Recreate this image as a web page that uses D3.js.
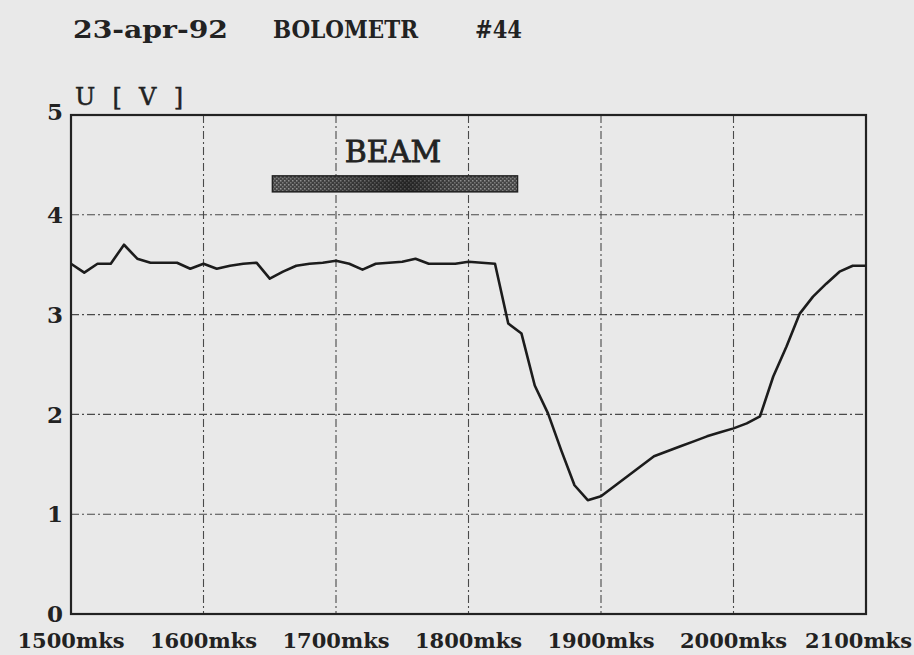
<!DOCTYPE html>
<html>
<head>
<meta charset="utf-8">
<script src="https://cdn.jsdelivr.net/npm/d3@7"></script>
<style>
  body { margin: 0; background: #ebebeb; }
  svg { display: block; }
</style>
</head>
<body>
<div id="chart"></div>
<script>
// time axis (mks) and bolometer signal (V), read every 10 mks
const times = [1500, 1510, 1520, 1530, 1540, 1550, 1560, 1570, 1580, 1590,
  1600, 1610, 1620, 1630, 1640, 1650, 1660, 1670, 1680, 1690,
  1700, 1710, 1720, 1730, 1740, 1750, 1760, 1770, 1780, 1790,
  1800, 1810, 1820, 1830, 1840, 1850, 1860, 1870, 1880, 1890,
  1900, 1910, 1920, 1930, 1940, 1950, 1960, 1970, 1980, 1990,
  2000, 2010, 2020, 2030, 2040, 2050, 2060, 2070, 2080, 2090, 2100];
const volts = [3.51, 3.42, 3.51, 3.51, 3.70, 3.56, 3.52, 3.52, 3.52, 3.46,
  3.51, 3.46, 3.49, 3.51, 3.52, 3.36, 3.43, 3.49, 3.51, 3.52,
  3.54, 3.51, 3.45, 3.51, 3.52, 3.53, 3.56, 3.51, 3.51, 3.51,
  3.53, 3.52, 3.51, 2.91, 2.81, 2.29, 2.01, 1.64, 1.29, 1.14,
  1.18, 1.28, 1.38, 1.48, 1.58, 1.63, 1.68, 1.73, 1.78, 1.82,
  1.86, 1.91, 1.98, 2.38, 2.68, 3.01, 3.18, 3.31, 3.43, 3.49, 3.49];

const xTicks = [1500, 1600, 1700, 1800, 1900, 2000, 2100];
const xTickLabels = ["1500mks", "1600mks", "1700mks", "1800mks", "1900mks", "2000mks", "2100mks"];
const yTicks = [0, 1, 2, 3, 4, 5];

// beam on interval (mks)
const beam = [1652, 1837];

const width = 914, height = 655;
const margin = { left: 71, right: 48, top: 115, bottom: 41 };

const svg = d3.select("#chart")
  .append("svg")
  .attr("width", width)
  .attr("height", height);

svg.append("rect")
  .attr("width", width)
  .attr("height", height)
  .attr("fill", "#e9e9e9");

const x = d3.scaleLinear()
  .domain([1500, 2100])
  .range([margin.left, width - margin.right]);

const y = d3.scaleLinear()
  .domain([0, 5])
  .range([height - margin.bottom, margin.top]);

const serif = "'DejaVu Serif', 'Liberation Serif', serif";

// dashed grid
svg.append("g")
  .selectAll("line")
  .data(xTicks.slice(1, -1))
  .join("line")
  .attr("x1", d => x(d)).attr("x2", d => x(d))
  .attr("y1", y(5)).attr("y2", y(0))
  .attr("stroke", "#4a4a4a")
  .attr("stroke-width", 1.1)
  .attr("stroke-dasharray", "8,3,2,3");

svg.append("g")
  .selectAll("line")
  .data(yTicks.slice(1, -1))
  .join("line")
  .attr("x1", x(1500)).attr("x2", x(2100))
  .attr("y1", d => y(d)).attr("y2", d => y(d))
  .attr("stroke", "#4a4a4a")
  .attr("stroke-width", 1.1)
  .attr("stroke-dasharray", "8,3,2,3");

// frame
svg.append("rect")
  .attr("x", x(1500))
  .attr("y", y(5))
  .attr("width", x(2100) - x(1500))
  .attr("height", y(0) - y(5))
  .attr("fill", "none")
  .attr("stroke", "#222")
  .attr("stroke-width", 2.2);

// y tick labels
svg.append("g")
  .selectAll("text")
  .data(yTicks)
  .join("text")
  .attr("x", x(1500) - 8)
  .attr("y", d => y(d) + (d === 5 ? -3 : 0))
  .attr("dy", "0.36em")
  .attr("text-anchor", "end")
  .attr("font-family", serif)
  .attr("font-weight", "bold")
  .attr("font-size", 23)
  .attr("fill", "#222")
  .text(d => d);

// x tick labels (last one pulled in so it stays on the page)
svg.append("g")
  .selectAll("text")
  .data(xTicks)
  .join("text")
  .attr("x", (d, i) => i === xTicks.length - 1 ? width - 2 : x(d))
  .attr("y", height - 7)
  .attr("text-anchor", (d, i) => i === xTicks.length - 1 ? "end" : "middle")
  .attr("font-family", serif)
  .attr("font-weight", "bold")
  .attr("font-size", 21)
  .attr("fill", "#222")
  .text((d, i) => xTickLabels[i]);

// y axis unit
svg.append("text")
  .attr("x", 75)
  .attr("y", 105)
  .attr("textLength", 108)
  .attr("lengthAdjust", "spacing")
  .attr("font-family", serif)
  .attr("font-size", 24)
  .attr("fill", "#222")
  .attr("stroke", "#222")
  .attr("stroke-width", 0.5)
  .style("white-space", "pre")
  .text("U [ V ]");

// title, in three parts
const titleParts = [
  { text: "23-apr-92", x: 73, w: 155 },
  { text: "BOLOMETR", x: 273, w: 145 },
  { text: "#44", x: 475, w: 47 }
];
svg.append("g")
  .selectAll("text")
  .data(titleParts)
  .join("text")
  .attr("x", d => d.x)
  .attr("y", 38)
  .attr("textLength", d => d.w)
  .attr("lengthAdjust", "spacingAndGlyphs")
  .attr("font-family", serif)
  .attr("font-weight", "bold")
  .attr("font-size", 24)
  .attr("fill", "#222")
  .text(d => d.text);

// beam bar with stippled fill
const defs = svg.append("defs");
const pat = defs.append("pattern")
  .attr("id", "stipple")
  .attr("width", 4).attr("height", 4)
  .attr("patternUnits", "userSpaceOnUse");
pat.append("rect").attr("width", 4).attr("height", 4).attr("fill", "#474747");
pat.append("rect").attr("x", 0).attr("y", 0).attr("width", 1.5).attr("height", 1.5).attr("fill", "#9a9a9a");
pat.append("rect").attr("x", 2).attr("y", 2).attr("width", 1.5).attr("height", 1.5).attr("fill", "#808080");

const shade = defs.append("linearGradient").attr("id", "shade");
shade.append("stop").attr("offset", "0%").attr("stop-color", "#000").attr("stop-opacity", 0);
shade.append("stop").attr("offset", "30%").attr("stop-color", "#000").attr("stop-opacity", 0.2);
shade.append("stop").attr("offset", "55%").attr("stop-color", "#000").attr("stop-opacity", 0.5);
shade.append("stop").attr("offset", "75%").attr("stop-color", "#000").attr("stop-opacity", 0.1);
shade.append("stop").attr("offset", "100%").attr("stop-color", "#000").attr("stop-opacity", 0);

const barTop = y(4.39), barH = y(4.23) - y(4.39);
svg.append("rect")
  .attr("x", x(beam[0]))
  .attr("y", barTop)
  .attr("width", x(beam[1]) - x(beam[0]))
  .attr("height", barH)
  .attr("fill", "url(#stipple)")
  .attr("stroke", "#222")
  .attr("stroke-width", 1.5);
svg.append("rect")
  .attr("x", x(beam[0]))
  .attr("y", barTop)
  .attr("width", x(beam[1]) - x(beam[0]))
  .attr("height", barH)
  .attr("fill", "url(#shade)");

svg.append("text")
  .attr("x", (x(beam[0]) + x(beam[1])) / 2 - 2)
  .attr("y", 162)
  .attr("text-anchor", "middle")
  .attr("font-family", serif)
  .attr("font-size", 30)
  .attr("fill", "#222")
  .attr("stroke", "#222")
  .attr("stroke-width", 0.8)
  .text("BEAM");

// signal
const line = d3.line()
  .x((d, i) => x(times[i]))
  .y(d => y(d));

svg.append("path")
  .datum(volts)
  .attr("fill", "none")
  .attr("stroke", "#1c1c1c")
  .attr("stroke-width", 2.6)
  .attr("stroke-linejoin", "round")
  .attr("d", line);
</script>
</body>
</html>
